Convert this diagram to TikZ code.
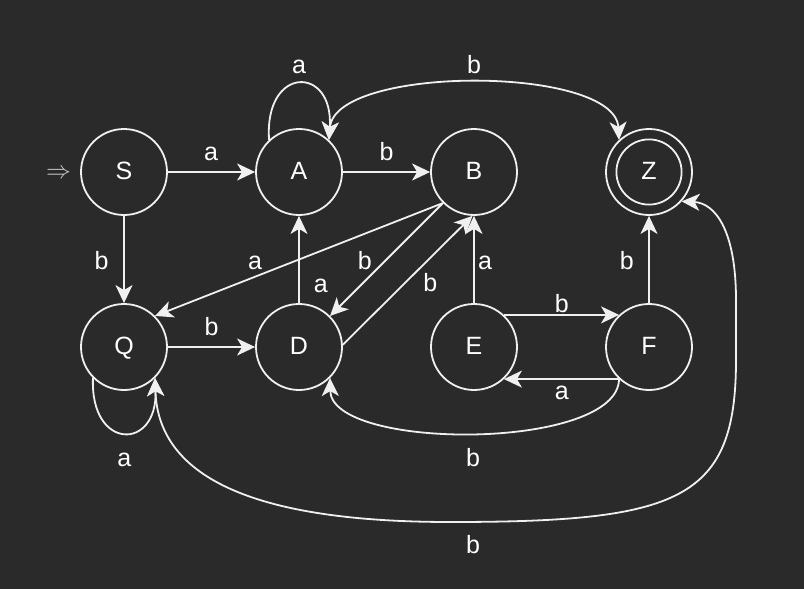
\documentclass[tikz,border=0pt]{standalone}
\usepackage{fontspec}
\setmainfont{Liberation Sans}
\usetikzlibrary{arrows.meta}
\definecolor{bg}{HTML}{2A2A2A}
\definecolor{ink}{HTML}{F0F0F0}
\definecolor{dim}{HTML}{C8C8C8}
\begin{document}
\begin{tikzpicture}[x=1pt,y=-1pt,
  tip/.tip={Stealth[length=18pt,width=17pt,inset=5pt]},
  state/.style={circle, draw=ink, fill=bg, line width=1.8pt, minimum size=86pt,
    inner sep=0pt, text=white, font=\fontsize{25}{29}\selectfont,
    text height=15.5pt, text depth=0pt},
  edge/.style={draw=ink, line width=1.8pt, -tip},
  twoway/.style={draw=ink, line width=1.8pt, tip-tip},
  lbl/.style={anchor=base, text=white, inner sep=0pt, font=\fontsize{25}{29}\selectfont}]

% canvas
\fill[bg] (0,0) rectangle (804,589);
\useasboundingbox (0,0) rectangle (804,589);

% states
\node[state] (S) at (124,172) {S};
\node[state] (A) at (299,172) {A};
\node[state] (B) at (474,172) {B};
\node[state] (Z) at (649,172) {Z};
\node[state] (Q) at (124,347) {Q};
\node[state] (D) at (299,347) {D};
\node[state] (E) at (474,347) {E};
\node[state] (F) at (649,347) {F};
% final state ring
\draw[ink, line width=1.8pt] (Z.center) circle[radius=32.6];

% start marker
\node[text=dim, inner sep=0pt, font=\fontsize{29}{32}\selectfont] (init) at (58.5,174) {$\Rightarrow$};

% straight transitions
\draw[edge] (S) -- (A);
\draw[edge] (A) -- (B);
\draw[edge] (S) -- (Q);
\draw[edge] (Q) -- (D);
\draw[edge] (D) -- (A);
\draw[edge] (E) -- (B);
\draw[edge] (F) -- (Z);
\draw[edge] (B.225) -- (Q.45);
\draw[edge] (B.225) -- (D.45);
\draw[edge] (D.3) -- (B.-92);
\draw[edge] (E.47) -- (F.133);
\draw[edge] (F.227) -- (E.-47);

% curved transitions
\draw[edge] (F.227) .. controls (618,451) and (331,451) .. (D.-45);
\draw[edge] (A.133) .. controls (264,65) and (334,65) .. (A.47);
\draw[twoway] (A.47) .. controls (335,65) and (615,65) .. (Z.133);
\draw[edge] (Q.225) .. controls (90,451) and (158,451) .. (Q.-45);
\draw[twoway] (Q.-45) .. controls (158,480) and (260,522) .. (450,522)
  .. controls (680,522) and (736,500) .. (736,360) -- (736,300)
  .. controls (736,230) and (715,203) .. (Z.-42);

% transition labels
\node[lbl] (lSA) at (211,160) {a};
\node[lbl] (lAB) at (386.5,160) {b};
\node[lbl] (lAA) at (299,73.3) {a};
\node[lbl] (lAZ) at (474,73) {b};
\node[lbl] (lSQ) at (101.7,269) {b};
\node[lbl] (lBQ) at (255,269.3) {a};
\node[lbl] (lBD) at (364.7,269.3) {b};
\node[lbl] (lDA) at (320.7,292.7) {a};
\node[lbl] (lDB) at (430.3,291.7) {b};
\node[lbl] (lQD) at (211.7,335) {b};
\node[lbl] (lEB) at (485,269.3) {a};
\node[lbl] (lFZ) at (626.7,269.3) {b};
\node[lbl] (lEF) at (561.7,312.7) {b};
\node[lbl] (lFE) at (561.7,399.3) {a};
\node[lbl] (lQQ) at (124.3,466.7) {a};
\node[lbl] (lFD) at (473,466.7) {b};
\node[lbl] (lQZ) at (473,553.3) {b};
\end{tikzpicture}
\end{document}
